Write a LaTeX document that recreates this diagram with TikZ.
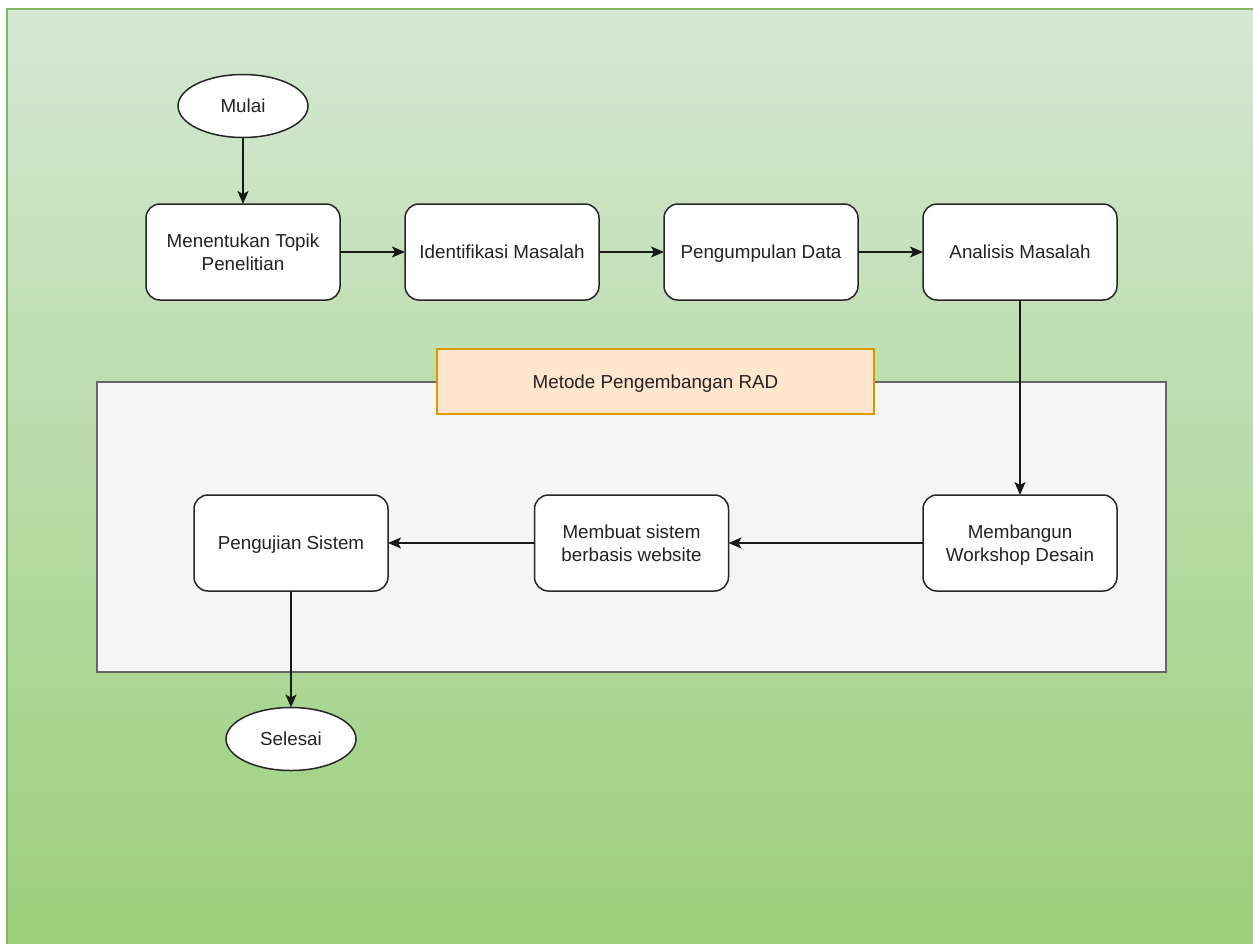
\documentclass[tikz,border=0pt]{standalone}
\usepackage{fontspec}
\setmainfont{Liberation Sans}
\usetikzlibrary{shapes.geometric,arrows.meta}
\definecolor{bgtop}{HTML}{D5E8D4}
\definecolor{bgbot}{HTML}{9ACF79}
\definecolor{bgline}{HTML}{82B366}
\definecolor{contfill}{HTML}{F5F5F5}
\definecolor{contline}{HTML}{666666}
\definecolor{lblfill}{HTML}{FFE6CC}
\definecolor{lblline}{HTML}{D79B00}
\definecolor{txt}{HTML}{222222}
\begin{document}
\begin{tikzpicture}[x=1pt,y=-1pt,
  every node/.style={font=\fontsize{18.8}{23}\selectfont, text=txt, inner sep=0pt, outer sep=0pt, align=center, text height=13.6pt, text depth=0pt},
  twoline/.style={text height=36.6pt, text depth=0pt},
  proc/.style={draw=black!85, fill=white, line width=1.5pt, rounded corners=14pt, minimum width=194pt, minimum height=96pt},
  term/.style={draw=black!85, fill=white, line width=1.5pt, ellipse, minimum width=130pt, minimum height=63pt},
  container/.style={draw=contline, fill=contfill, line width=1.2pt, minimum width=1069pt, minimum height=290pt},
  radlabel/.style={draw=lblline, fill=lblfill, line width=1.2pt, minimum width=437pt, minimum height=65pt},
  flow/.style={draw=black!90, line width=1.5pt, -{Stealth[length=13pt,width=11pt,inset=3pt]}}
]
\useasboundingbox (0,0) rectangle (1253,943);
\shade[top color=bgtop, bottom color=bgbot] (7,9) rectangle (1262,955);
\draw[bgline, line width=1.4pt] (7,960) -- (7,9) -- (1262,9);

\node[container] (rad) at (631.5,527) {};
\node[radlabel] (lbl) at (655.5,381.5) {Metode Pengembangan RAD};

\node[term] (mulai) at (243,106) {Mulai};
\node[proc, twoline] (topik) at (243,252) {Menentukan Topik\\Penelitian};
\node[proc] (ident) at (502,252) {Identifikasi Masalah};
\node[proc] (kumpul) at (761,252) {Pengumpulan Data};
\node[proc] (analisis) at (1020,252) {Analisis Masalah};
\node[proc, twoline] (bangun) at (1020,543) {Membangun\\Workshop Desain};
\node[proc, twoline] (buat) at (631.5,543) {Membuat sistem\\berbasis website};
\node[proc] (uji) at (291,543) {Pengujian Sistem};
\node[term] (selesai) at (291,739) {Selesai};

\draw[flow] (mulai) -- (topik);
\draw[flow] (topik) -- (ident);
\draw[flow] (ident) -- (kumpul);
\draw[flow] (kumpul) -- (analisis);
\draw[flow] (analisis) -- (bangun);
\draw[flow] (bangun) -- (buat);
\draw[flow] (buat) -- (uji);
\draw[flow] (uji) -- (selesai);
\end{tikzpicture}
\end{document}
